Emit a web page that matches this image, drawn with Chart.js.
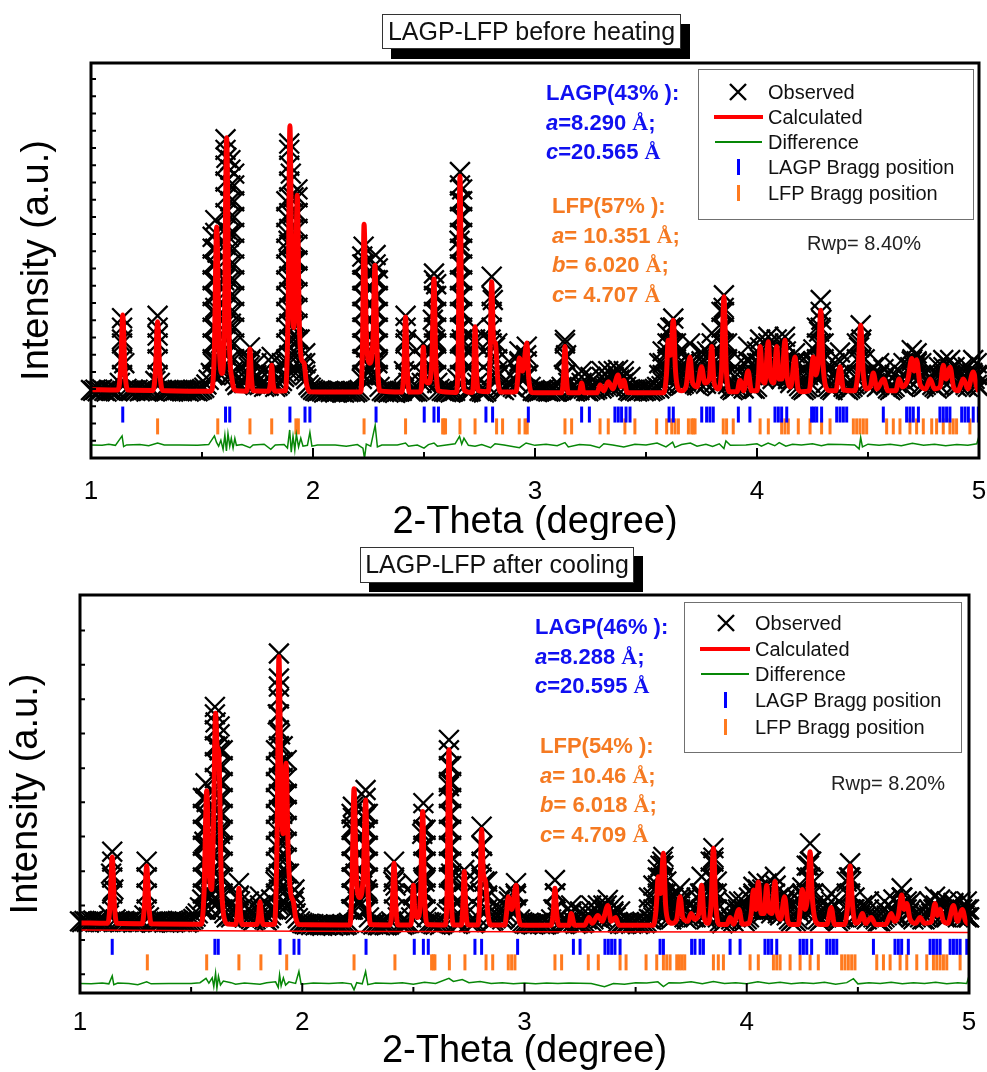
<!DOCTYPE html>
<html><head><meta charset="utf-8">
<script src="https://cdn.jsdelivr.net/npm/chart.js@4.4.1/dist/chart.umd.min.js"></script>
<style>
html,body{margin:0;padding:0;background:#fff}
body{position:relative;width:987px;height:1072px;overflow:hidden;font-family:"Liberation Sans",Arial,sans-serif}
canvas{position:absolute;left:0}
#c1{top:0}#c2{top:540px}
.tbox{position:absolute;box-sizing:border-box;background:#fff;border:1.5px solid #333;font-size:25px;line-height:32px;text-align:center;color:#111;white-space:nowrap}
.ann{position:absolute;font-weight:bold;font-size:22px;line-height:29.5px;white-space:nowrap}
.ann i{font-style:italic}
.ang{font-family:"Liberation Serif","Times New Roman",serif;font-weight:bold}
.blue{color:#1010f0}.orange{color:#f57a22}
.lg{position:absolute;box-sizing:border-box;border:1.5px solid #707070;background:#fff}
.lt{position:absolute;font-size:20px;line-height:22px;color:#111;white-space:nowrap}
.sym{position:absolute}
</style></head><body>
<canvas id="c1" width="987" height="540"></canvas>
<canvas id="c2" width="987" height="532"></canvas>

<div class="tbox" style="left:382px;top:14px;width:299px;height:35px;box-shadow:9px 10px 0 #000">LAGP-LFP before heating</div>
<div class="tbox" style="left:360px;top:547px;width:274px;height:36px;box-shadow:9px 9px 0 #000">LAGP-LFP after cooling</div>

<div class="ann blue" style="left:546px;top:78px">LAGP(43% ):<br><i>a</i>=8.290 <span class="ang">Å</span>;<br><i>c</i>=20.565 <span class="ang">Å</span></div>
<div class="ann orange" style="left:552px;top:191px">LFP(57% ):<br><i>a</i>= 10.351 <span class="ang">Å</span>;<br><i>b</i>= 6.020 <span class="ang">Å</span>;<br><i>c</i>= 4.707 <span class="ang">Å</span></div>
<div class="ann blue" style="left:535px;top:612px">LAGP(46% ):<br><i>a</i>=8.288 <span class="ang">Å</span>;<br><i>c</i>=20.595 <span class="ang">Å</span></div>
<div class="ann orange" style="left:540px;top:731px">LFP(54% ):<br><i>a</i>= 10.46 <span class="ang">Å</span>;<br><i>b</i>= 6.018 <span class="ang">Å</span>;<br><i>c</i>= 4.709 <span class="ang">Å</span></div>

<div class="lt" style="left:807px;top:232px;color:#222">Rwp= 8.40%</div>
<div class="lt" style="left:831px;top:772px;color:#222">Rwp= 8.20%</div>

<div class="lg" style="left:698px;top:69px;width:276px;height:151px"></div>
<svg class="sym" style="left:728px;top:82px" width="20" height="20"><path d="M2,2L18,18M18,2L2,18" stroke="#000" stroke-width="2.4"/></svg>
<div class="lt" style="left:768px;top:81px">Observed</div>
<div class="sym" style="left:714px;top:115px;width:49px;height:4px;background:#f00"></div>
<div class="lt" style="left:768px;top:106px">Calculated</div>
<div class="sym" style="left:715px;top:141px;width:47px;height:1.5px;background:#078707"></div>
<div class="lt" style="left:768px;top:131px">Difference</div>
<div class="sym" style="left:737px;top:159px;width:3px;height:16px;background:#0000ff"></div>
<div class="lt" style="left:768px;top:156px">LAGP Bragg position</div>
<div class="sym" style="left:737px;top:185px;width:3px;height:16px;background:#ff7a1f"></div>
<div class="lt" style="left:768px;top:182px">LFP Bragg position</div>

<div class="lg" style="left:684px;top:602px;width:278px;height:151px"></div>
<svg class="sym" style="left:716px;top:613px" width="20" height="20"><path d="M2,2L18,18M18,2L2,18" stroke="#000" stroke-width="2.4"/></svg>
<div class="lt" style="left:755px;top:612px">Observed</div>
<div class="sym" style="left:700px;top:647px;width:50px;height:4px;background:#f00"></div>
<div class="lt" style="left:755px;top:638px">Calculated</div>
<div class="sym" style="left:701px;top:673px;width:48px;height:1.5px;background:#078707"></div>
<div class="lt" style="left:755px;top:663px">Difference</div>
<div class="sym" style="left:724px;top:692px;width:3px;height:16px;background:#0000ff"></div>
<div class="lt" style="left:755px;top:689px">LAGP Bragg position</div>
<div class="sym" style="left:724px;top:719px;width:3px;height:16px;background:#ff7a1f"></div>
<div class="lt" style="left:755px;top:716px">LFP Bragg position</div>

<script>
// ---------- data ----------
const xMajorTicks = [1, 2, 3, 4, 5];
const xMinorTicks = [1.5, 2.5, 3.5, 4.5];
const yTicks1 = [4.36,8.72,13.08,17.44,21.8,26.16,30.52,34.88,39.24,43.6,47.96,52.32,56.68,61.04,65.4,69.76,74.12,78.48,82.84,87.2,91.56,95.92];
const yTicks2 = [4.7,13.3,22.0,30.6,39.3,47.9,56.5,65.2,73.8,82.5,91.1];

// observed intensities on the measurement grid (2θ from 1.00 to 5.00, 0.01 step)
const obsGridStart = 1.0, obsGridStep = 0.01;
const obsGrid1 = [
17.2,17,17.3,16.9,17.1,17.4,17,16.8,17.2,17.1,17,17.3,16.9,19,30,24,17.5,17.1,17,17.2,
17,17.3,16.9,17.1,17.2,16.8,17,17.3,17.1,19.5,31,19,17.2,17,16.9,17.2,17.1,16.8,17,17.2,
17.1,16.9,17.2,17,16.8,17.1,17.3,17,16.9,17.2,17.4,17.8,18.6,19.8,21.5,24,38,52,28,22,
45,76,56,34,22,19.5,18.5,18.8,19.5,19,20,23,25,19.5,18.8,19.2,18.5,18.8,18,18.3,
18.3,21,19,18,18.3,18.8,19.5,20.5,24,55,72,42,50,62,30,24,22,20,18.5,17.8,
17.3,17,16.8,17.1,16.9,16.6,16.8,17,16.7,16.9,16.6,16.8,17,16.7,16.6,16.9,16.7,16.8,17,16.6,
16.8,17.2,20,45,28,22,21,28,45,24,18,17,16.7,16.9,16.6,16.8,16.7,16.5,16.8,16.9,
17,22,30,19,16.9,16.7,16.9,16.8,17.2,19,25,19,19,21,35,30,19,17.5,17,16.8,
16.7,16.9,16.6,16.8,17,20,55,30,18,17,16.7,16.9,18,30,19,17,16.8,16.6,16.9,18,
30,40,28,22,18,17.5,17.2,18,19,18.5,18,17.6,19,24,21,20,26,21,18,17,
16.9,16.7,16.9,17.1,17.3,17,16.8,16.9,17.2,16.8,16.9,17.3,18,21,26,19,17.4,17,16.8,17.1,
17.2,19,17.5,17,16.9,17.3,17.6,17.2,17.5,18.3,17.6,18,18.4,19,18.2,17.8,18.2,19.2,19.8,18.6,
19,18,17.2,16.9,17.3,17.1,16.8,17,17.3,16.9,17.1,17.4,16.9,17.2,17.5,18,17.6,18.2,19,20.5,
27,25,33,23,19.5,18.8,18.4,18.8,19.3,22,24,19.5,18.8,18.4,19,22,19.5,18.8,19.5,26,
24,19.3,18.2,18.8,21,38,24,18.7,17.6,17.2,17.5,18,19.5,18.2,17.6,19,21,19,17.6,17.5,
18,24,23,20,21,28,22,20,21,26,21,20,24,27,20,19,20,24,19,18.2,
17.5,17.2,17.6,18,19,24,22,23,32,35,22,19,18,17.5,17.2,18,20,23,20,18,
17.5,17.2,17.6,18,18.6,20,28,30,21,19,18.5,19,21,19,18,18.5,19.5,20,18.5,17.6,
17.2,17.6,18,19,20,18.5,18,19,20,23,25,23,24,20,18.5,18,18.5,19,20,18.5,
18,17.6,18.5,20,23,21,20,22.5,20,18.5,18,18.5,19,20,18.5,18,19.5,21.5,20,18.5,
18];
// stacked observed points along the peak flanks: [2θ, [intensities]]
const obsStacks1 = [
[1.140,[21,25,29,33,35.4]],[1.300,[21,25,29,33,36]],
[1.548,[21,25,29,33,37,41,45,49,53,56]],
[1.560,[21,25,29,33,37,41,45,49,53,57,60.2]],[1.585,[21,24.5]],
[1.606,[22,26,30,34,38,42,46,50,54,58,62,66,70,74,78,80.7]],
[1.628,[21,25,29,33,37,41,45,49,53,57,61,65,69,73,75.4]],
[1.645,[21,25,29,33,37,41,45,49,53,57,61,65,69,72]],
[1.700,[21,24.5]],[1.716,[21,24.5,28]],[1.745,[21,24]],[1.814,[21,24,25.6]],[1.860,[21,24]],
[1.880,[21,25,29,33,37,41,45,49,53,57,61,65]],
[1.893,[22,26,30,34,38,42,46,50,54,58,62,66,70,74,78,79.6]],
[1.912,[22,26,30,34,38,42,46,50,54,58,62,66]],
[1.930,[22,26,30,34,38,42,46,50,54,58,62,66,68]],[1.965,[21,24,26.5]],
[2.222,[21,25,29,33,37,41,45,49,51]],
[2.228,[21,25,29,33,37,41,45,49,53.5]],[2.282,[21,25,29,33,37,41,45,49,51.4]],
[2.292,[21,25,29,33,37,41,45,48]],
[2.417,[21,25,29,33,36]],[2.497,[21,25,29]],[2.545,[21,25,29,33,37,41,45,46.7]],
[2.555,[21,25,29,33,37,41,44]],
[2.662,[21,25,29,33,37,41,45,49,53,57,61,65,69,72.4]],
[2.672,[21,25,29,33,37,41,45,49,53,57,61,65,68]],[2.730,[21,25,29,33]],
[2.805,[21,25,29,33,37,41,45.9]],[2.830,[21,25,29]],[2.890,[21,24]],
[2.930,[21,24.5,27]],[2.963,[21,24.5,28.2]],[3.135,[21,25,29,29.9]],
[3.210,[20.5,22]],[3.250,[20.5]],[3.300,[20.5,22]],[3.330,[20.5,22]],[3.355,[20.5,22]],[3.374,[20.5,22.3]],[3.400,[20.5,22]],[3.430,[20.5]],
[3.560,[21,24]],[3.575,[21,24,27]],[3.597,[21,25,29,31.5]],[3.610,[21,25,29,33]],[3.623,[21,25,29,33,35.3]],[3.635,[21,25,29]],[3.650,[21,24,27]],[3.670,[21,24]],
[3.698,[21,25,29]],[3.720,[21,24]],[3.750,[21,24.5,26.7]],[3.775,[21,24,27]],[3.796,[21,25,29,31.6]],[3.820,[21,24]],
[3.840,[21,25,29,33,37]],[3.851,[21,25,29,33,37,41.2]],[3.865,[21,25,29]],
[3.900,[20.5,23]],[3.940,[21,24]],[3.960,[21,24.5,28.2]],[3.980,[21,24]],
[4.000,[21,24,27]],[4.014,[21,25,28,30]],[4.035,[21,24,27]],[4.051,[21,25,29,30.7]],[4.070,[21,24,27]],[4.089,[21,25,28,30]],
[4.110,[21,24,27]],[4.126,[21,25,29,30.7]],[4.145,[21,24]],
[4.171,[21,24.5,26.5]],[4.190,[21,24]],[4.230,[21,24]],[4.254,[21,24.5,27.5]],[4.270,[21,25,29,33]],[4.287,[21,25,29,33,37,40]],[4.300,[21,25,29]],
[4.350,[21,24]],[4.374,[21,24.5,26.7]],[4.450,[21,25,29]],[4.467,[21,25,29,33.6]],[4.485,[21,25]],[4.524,[20.5,23]],[4.550,[21,24]],[4.570,[20.5,22.5]],
[4.620,[21,23]],[4.660,[21,24]],[4.697,[21,24.5,27.3]],[4.719,[21,24.5,26.5]],[4.740,[21,24]],[4.780,[20.5,22.5]],
[4.820,[21,23]],[4.839,[21,24.8]],[4.855,[21,24]],[4.870,[21,24.8]],[4.890,[21,23]],[4.930,[20.5,23]],[4.950,[21,23]],[4.974,[21,24.8]],[4.990,[21,24]],[5.000,[18,21]]
];
const calc1 = [
[1.00,17.3],[1.12,17.2],[1.133,22],[1.143,36.2],[1.153,22],[1.166,17.2],
[1.28,17.1],[1.29,22],[1.300,34.5],[1.310,22],[1.322,17.1],
[1.54,16.9],[1.555,26],[1.566,58.5],[1.578,28],[1.590,21.4],[1.600,30],[1.611,81.1],[1.622,32],[1.635,20],[1.655,17],
[1.70,16.9],[1.709,20],[1.716,27.6],[1.723,20],[1.732,17],
[1.80,16.9],[1.808,19],[1.814,23.5],[1.820,19],[1.828,16.9],
[1.875,17],[1.888,38],[1.896,84.1],[1.905,45],[1.913,33],[1.921,42],[1.929,66.5],[1.938,35],[1.948,25],[1.960,24],[1.970,19],[1.985,16.8],
[2.215,16.7],[2.223,28],[2.230,59.2],[2.240,32],[2.255,24],[2.270,30],[2.279,48.8],[2.288,28],[2.300,17],
[2.400,16.7],[2.409,22],[2.417,35.7],[2.425,22],[2.434,16.7],
[2.485,16.8],[2.491,20],[2.497,28.1],[2.504,20],[2.520,19],[2.535,24],[2.545,45.3],[2.553,25],[2.565,17],
[2.645,16.6],[2.654,26],[2.662,71.3],[2.671,28],[2.684,17],
[2.718,16.6],[2.724,21],[2.730,33.2],[2.737,21],[2.746,17],
[2.790,16.8],[2.797,24],[2.805,44.6],[2.813,30],[2.822,29],[2.832,20],[2.845,16.7],
[2.915,16.8],[2.922,20],[2.929,25.3],[2.945,22],[2.963,29.1],[2.972,20],[2.985,16.6],
[3.12,16.5],[3.128,20],[3.135,28.2],[3.142,20],[3.150,16.5],
[3.20,16.5],[3.21,19],[3.22,16.5],
[3.28,16.5],[3.293,18.5],[3.31,17],[3.33,19.3],[3.35,17.5],[3.374,21],[3.387,18],[3.40,19.7],[3.415,16.6],
[3.58,16.5],[3.592,21],[3.600,29.8],[3.610,26],[3.623,34.9],[3.633,22],[3.645,17.5],[3.66,17],[3.68,18],[3.698,25.6],[3.71,19],[3.73,18],[3.75,23.1],[3.765,19],[3.785,20],[3.796,28.2],[3.807,19],[3.825,17.5],[3.84,22],[3.851,40.8],[3.862,22],[3.878,16.8],
[3.91,16.8],[3.923,19.7],[3.94,17],[3.96,22],[3.975,17],
[4.00,17],[4.007,21],[4.014,28.2],[4.025,20],[4.035,19],[4.051,29.4],[4.062,20],[4.075,19],[4.089,28.2],[4.10,20],[4.112,20],[4.126,29.8],[4.137,20],[4.152,18],[4.171,25.6],[4.185,17.5],[4.20,16.8],
[4.235,17],[4.254,25.6],[4.265,21],[4.278,26],[4.287,37.4],[4.297,24],[4.31,18],[4.33,17],
[4.355,17],[4.374,23.1],[4.39,17.2],
[4.44,17],[4.455,22],[4.467,33.6],[4.478,22],[4.492,17.5],[4.51,18],[4.524,21.5],[4.54,17.5],[4.57,20],[4.59,17],
[4.625,17],[4.64,20],[4.655,18],[4.68,20],[4.697,25.2],[4.708,22],[4.719,24.9],[4.735,18.5],[4.76,17.5],[4.78,20],[4.80,17.5],
[4.825,18],[4.839,23.5],[4.852,20],[4.87,23],[4.885,18],[4.905,17],[4.93,20],[4.95,17.5],[4.974,21.8],[4.99,18],[5.00,16.8]
];
const diff1 = [
[1.00,3.3],[1.05,3.2],[1.08,3.5],[1.11,3.2],[1.14,5.6],[1.147,2.9],[1.16,3.3],[1.22,3.4],[1.26,3.1],[1.30,3.8],[1.33,3.3],[1.40,3.3],[1.48,3.2],[1.53,3.4],
[1.556,5.6],[1.565,4],[1.575,3],[1.585,4.5],[1.595,2.2],[1.603,5.8],[1.61,1.8],[1.617,6.2],[1.625,3],[1.632,5],[1.64,2.5],[1.648,5],[1.655,3.2],[1.68,3.4],
[1.716,2.6],[1.73,3.3],[1.78,3.5],[1.81,2.2],[1.83,3.3],[1.87,3.4],[1.885,2.5],[1.895,7.1],[1.902,1.5],[1.91,5.5],[1.918,2],[1.925,6],[1.935,2.8],[1.945,5],[1.955,3],[1.975,3.2],[1.986,6.5],[1.995,3],
[2.02,3.3],[2.10,3.3],[2.15,3.0],[2.20,3.4],[2.225,2.5],[2.232,-0.1],[2.24,3.5],[2.26,3],[2.28,8.3],[2.29,2.8],[2.31,3.3],[2.38,3.3],[2.417,3.8],[2.43,3],[2.47,3.3],[2.50,2.5],[2.52,3.4],[2.545,3.8],[2.56,3],
[2.60,3.3],[2.64,3.6],[2.66,5.5],[2.67,3.5],[2.68,5],[2.70,3.2],[2.73,3],[2.76,3.4],[2.80,2.6],[2.82,3.6],[2.86,3.3],[2.93,2.6],[2.96,3.8],[3.0,3.2],
[3.05,3.5],[3.10,3.1],[3.135,3.9],[3.15,2.8],[3.2,3.4],[3.25,3.2],[3.29,2.6],[3.31,3.6],[3.35,3.3],[3.40,2.8],[3.45,3.5],[3.50,3.3],[3.55,3.8],[3.59,2.8],[3.62,4],[3.63,2.7],[3.66,3.4],[3.70,3.8],[3.73,3.0],[3.77,3.5],[3.80,2.9],[3.83,3.6],[3.851,2.4],[3.86,4.3],[3.88,3.2],[3.95,3.3],
[4.00,3.6],[4.02,3.0],[4.05,3.8],[4.08,3.1],[4.10,3.9],[4.13,3.0],[4.16,3.5],[4.20,3.3],[4.25,3.6],[4.29,3.1],[4.32,3.5],[4.38,3.4],[4.44,3.3],[4.46,2.3],[4.467,5.2],[4.475,2.8],[4.50,3.5],[4.55,3.2],[4.60,3.5],[4.65,3.1],[4.70,3.7],[4.75,3.2],[4.80,3.5],[4.85,3.1],[4.90,3.4],[4.95,3.2],[4.99,3.6],[5.0,5.5]
];
const lagpBragg1 = [1.143,1.606,1.625,1.896,1.964,1.986,2.284,2.501,2.545,2.565,2.779,2.809,2.970,3.210,3.245,3.360,3.375,3.390,3.410,3.428,3.604,3.623,3.751,3.773,3.788,3.803,3.916,3.968,4.081,4.096,4.111,4.134,4.246,4.257,4.269,4.291,4.359,4.374,4.389,4.404,4.569,4.674,4.689,4.704,4.727,4.824,4.839,4.854,4.869,4.922,4.937,4.952,4.974,4.997];
const lfpBragg1 = [1.300,1.571,1.716,1.814,1.923,1.934,2.230,2.417,2.584,2.590,2.597,2.662,2.730,2.827,2.854,2.929,2.955,2.965,3.135,3.165,3.293,3.330,3.405,3.450,3.548,3.593,3.616,3.631,3.646,3.691,3.706,3.713,3.721,3.848,3.863,3.893,4.014,4.051,4.111,4.126,4.141,4.186,4.239,4.291,4.329,4.434,4.449,4.464,4.479,4.494,4.584,4.614,4.644,4.689,4.719,4.749,4.787,4.809,4.839,4.869,4.884,4.899,4.959];

const obsGrid2 = [
18,17.8,18.1,17.9,17.7,18,18.2,17.8,17.9,18.1,17.8,18,17.9,19.5,30,26,18.5,18,17.8,17.9,
18.1,17.8,17.9,18,17.7,17.9,18.1,17.8,18,19.5,29,19,17.9,17.7,18,17.8,17.9,18.1,17.7,17.9,
17.8,18,17.7,17.9,18.1,17.8,17.9,18,17.7,17.9,18.2,18.6,19.2,20,21.5,23.5,38,48,30,25,
45,68,62,40,24,20,19,19.4,19,19.5,20,24,23,19.5,19,19.4,19,18.6,18.2,18.5,
19,22,19,18.5,18.2,18.8,19.5,21,28,70,65,45,50,50,30,25,23,20,18.8,18,
17.6,17.4,17.2,17.4,17.1,17.3,17,17.2,17.1,16.9,17.2,17,17.3,17.1,16.9,17.2,17,17.1,17.3,17,
17.2,17.6,21,42,30,23,22,27,44,26,19,17.6,17.2,17.4,17.1,17,17.3,17.1,17,17.2,
18,28,27,19,17.4,17.1,17.3,17.5,17.6,19,25,20,19.5,22,40,28,19,17.8,17.6,17.3,
17.2,17.5,17.1,17.4,17.8,20,52,30,19,17.6,17.3,17.6,19,28,20,17.8,18,17.5,17.8,19,
30,37,28,24,19,18,18.3,18.8,19.3,19,18.5,19,20,23,21,20.5,25,21,18.5,17.8,
17.5,17.3,17.6,17.4,17.2,17.4,17.6,17.3,17.5,17.2,17.6,17.5,18.5,21,25,19,17.8,17.4,17.3,17.6,
17.8,20,17.9,17.4,17.6,17.8,17.5,17.8,18.5,19.5,18,18.5,19.3,19,18.6,19,21,22,19.5,19,
20,19,17.8,17.4,17.6,17.3,17.5,17.8,17.4,17.6,17.8,17.3,17.6,17.9,17.5,17.8,18.6,18.4,19,20.5,
27,25,33,24,20,19,18.5,19,19.5,21,23,20,19,18.5,19,20,19,19,20,25,
24,19.5,18.5,19,22,34,23,19,18,17.5,18,18.5,19.5,18.5,18,19,21,20,18.5,18,
18.5,19,21,25,21,26,22,20,21,26,21,20,23,27,20,19.5,20,23,19.5,18.5,
18,18.5,18,18.5,20,25,22,23,32,33,22,19.5,18.5,18,18.5,19,19.5,21,21,19,
18.5,18,18.5,19,19,21,29,28,21,19.5,19,19.5,20.5,19,18.5,19,19.5,19,18.5,18,
18,18.5,19,19.5,20,19.5,19,19.5,19.5,22,24,21,22,20,19,18.5,19,19.5,19,18.5,
18.5,19,19.5,20,21,22,20,21,19.5,19,19,20,21.5,22,19.5,19,20,21,19.5,19,
19];
const obsStacks2 = [
[1.145,[21,25,29,33,35.5]],[1.300,[21,25,29,33]],
[1.553,[21,25,29,33,37,41,45,49]],
[1.565,[21,25,29,33,37,41,45,49,52.7]],[1.590,[21,24.5,27]],
[1.607,[22,26,30,34,38,42,46,50,54,58,62,66,70,71.9]],
[1.628,[21,25,29,33,37,41,45,49,53,57,61,65,67]],
[1.642,[21,25,29,33,37,41,45,49,53,57,61]],
[1.715,[21,24.5,27.6]],[1.760,[21,23]],[1.810,[21,24.2]],[1.860,[21,23.5]],
[1.882,[21,25,29,33,37,41,45,49,53,57,61]],
[1.895,[22,26,30,34,38,42,46,50,54,58,62,66,70,74,77,79,85.3]],
[1.912,[22,26,30,34,38,42,46,50,54,58,62]],
[1.930,[22,26,30,34,38,42,46,50,54,58.5]],[1.965,[21,24,26]],
[2.222,[21,25,29,33,37,41,45]],
[2.228,[21,25,29,33,37,41,44,46.8]],[2.285,[21,25,29,33,37,41,45,49,51]],
[2.295,[21,25,29,33,37,41,45]],
[2.413,[21,25,29,33]],[2.500,[21,24.5,27.5]],[2.545,[21,25,29,33,37,41,45,47.7]],
[2.555,[21,25,29,33,37,41]],
[2.660,[21,25,29,33,37,41,45,49,53,57,61,63.6]],[2.670,[21,25,29,33,37,41,45,49,53,57]],
[2.729,[21,25,28,30.9]],
[2.807,[21,25,29,33,37,41.8]],[2.832,[21,24.5,28]],[2.890,[21,23]],
[2.930,[21,24.2]],[2.962,[21,24.5,27.6]],[3.137,[21,25,28.4]],
[3.210,[20.5,22]],[3.250,[20.5]],[3.300,[20.5,22]],[3.330,[20.5,22]],[3.355,[20.5,22]],[3.375,[20.5,23.4]],[3.400,[20.5,22]],[3.430,[20.5]],
[3.560,[21,24]],[3.580,[21,24,27]],[3.600,[21,25,29,31]],[3.612,[21,25,29,32]],[3.625,[21,25,29,32,34.2]],[3.638,[21,25,28]],[3.650,[21,24]],[3.670,[21,24]],
[3.700,[21,24,26.3]],[3.720,[21,23.5]],[3.775,[21,24]],[3.797,[21,25,29.2]],[3.820,[21,23.5]],
[3.838,[21,25,29,33]],[3.850,[21,25,29,33,36.4]],[3.865,[21,25,28]],
[3.940,[21,23]],[3.965,[20.5,23]],[3.985,[21,23]],
[4.010,[21,24]],[4.030,[21,24.5,26.7]],[4.052,[21,25,28]],[4.070,[21,24,26]],[4.090,[21,24.5,27.5]],[4.110,[21,24,26]],[4.127,[21,25,29.2]],[4.145,[21,24]],
[4.170,[21,23.5,25]],[4.190,[21,23]],[4.230,[21,23.5]],[4.250,[21,24.5,26.5]],[4.270,[21,25,29,32]],[4.285,[21,25,29,33,37.6]],[4.300,[21,25,28]],
[4.350,[21,23]],[4.380,[21,23,25]],[4.450,[21,25,28]],[4.465,[21,25,29,32.6]],[4.485,[21,24]],[4.520,[20.5,22]],[4.550,[21,23]],
[4.620,[21,23]],[4.660,[21,23.5]],[4.697,[21,24,26.3]],[4.720,[21,23]],[4.740,[21,23]],
[4.820,[21,23]],[4.847,[21,24.2]],[4.870,[21,23.5]],[4.900,[21,23]],[4.930,[20.5,22.6]],[4.960,[21,23]],[4.990,[21,23]],[5.000,[19,21]]
];
const calc2 = [
[1.00,17.6],[1.125,17.5],[1.135,22],[1.145,34.2],[1.155,22],[1.165,17.5],
[1.28,17.4],[1.29,22],[1.300,31.9],[1.310,22],[1.32,17.4],
[1.545,17.3],[1.558,25],[1.570,50.8],[1.582,30],[1.592,26],[1.600,40],[1.610,70.3],[1.617,62],[1.625,60],[1.635,30],[1.648,19],[1.665,17.3],
[1.700,17.2],[1.708,20],[1.715,26.3],[1.722,20],[1.730,17.2],
[1.795,17.2],[1.803,19],[1.810,22.9],[1.817,19],[1.825,17.2],
[1.875,17.3],[1.887,40],[1.895,84.5],[1.905,50],[1.914,40],[1.920,48],[1.927,57.7],[1.937,35],[1.948,25],[1.960,23],[1.970,19],[1.985,17.2],
[2.215,17.1],[2.224,28],[2.233,51.3],[2.243,30],[2.258,24],[2.275,30],[2.285,48.5],[2.295,27],[2.307,17.2],
[2.395,17.1],[2.405,22],[2.413,32.6],[2.421,22],[2.430,17.1],
[2.488,17.1],[2.494,20],[2.500,27.1],[2.507,20],[2.520,19],[2.532,24],[2.542,45.6],[2.550,25],[2.562,17.2],
[2.643,17.1],[2.652,26],[2.660,61.1],[2.669,27],[2.682,17.1],
[2.716,17.1],[2.722,21],[2.729,30.5],[2.736,21],[2.745,17.1],
[2.790,17.1],[2.799,24],[2.807,41.1],[2.815,30],[2.825,28],[2.835,20],[2.848,17.1],
[2.912,17.1],[2.919,20],[2.927,24.2],[2.943,21],[2.962,27.1],[2.971,20],[2.985,17.1],
[3.12,17],[3.129,20],[3.137,26.3],[3.145,20],[3.155,17],
[3.20,17],[3.21,20],[3.225,17],
[3.27,17],[3.29,19],[3.305,17.5],[3.33,19.5],[3.35,18],[3.375,22],[3.39,18],[3.41,19],[3.425,17],
[3.58,17],[3.592,21],[3.602,29.2],[3.612,25],[3.625,35.1],[3.635,22],[3.648,18],[3.665,17.5],[3.685,18.5],[3.70,24.2],[3.712,19],[3.735,18],[3.75,20],[3.765,18.5],[3.785,20],[3.797,27.1],[3.808,19],[3.825,17.5],[3.839,22],[3.850,36.4],[3.861,22],[3.877,17.2],
[3.91,17.2],[3.925,19],[3.94,17.3],[3.965,21],[3.98,17.3],
[4.01,17.5],[4.02,20],[4.03,25.9],[4.041,21],[4.052,27.9],[4.065,20],[4.078,20],[4.09,27],[4.10,20.5],[4.113,20],[4.127,28],[4.138,20],[4.152,18.5],[4.17,24.2],[4.185,18],[4.20,17.2],
[4.232,17.2],[4.25,26],[4.262,21],[4.275,25],[4.285,35.5],[4.295,24],[4.31,18],[4.33,17.2],
[4.36,17.2],[4.38,21.5],[4.395,17.2],
[4.44,17.2],[4.454,22],[4.465,31.9],[4.476,22],[4.49,17.5],[4.505,18],[4.52,20],[4.535,17.5],[4.56,19],[4.58,17.2],
[4.625,17.2],[4.65,20],[4.665,18],[4.682,19.5],[4.697,24.6],[4.708,21],[4.72,22.5],[4.735,18.5],[4.76,17.5],[4.78,19],[4.80,17.5],
[4.83,17.8],[4.847,22.5],[4.858,19.5],[4.87,21],[4.885,18],[4.905,17.5],[4.93,22],[4.948,18],[4.97,21],[4.985,18],[5.00,17.2]
];
const bg2 = [[1.0,15.8],[2.0,15.5],[3.0,15.4],[4.0,15.3],[5.0,15.2]];
const diff2 = [
[1.00,2.4],[1.05,2.3],[1.10,2.5],[1.13,2.3],[1.145,4.3],[1.152,2.1],[1.17,2.5],[1.22,2.4],[1.26,2.1],[1.30,2.8],[1.32,2.3],[1.40,2.4],[1.50,2.4],[1.54,2.6],
[1.567,3.7],[1.58,2.5],[1.595,3.8],[1.602,1.6],[1.610,5.0],[1.616,1.2],[1.623,4.2],[1.632,2],[1.645,3],[1.68,2.6],[1.70,2.2],[1.74,2.5],[1.81,2.2],[1.84,2.6],
[1.88,2.8],[1.892,1.4],[1.898,4.6],[1.905,1.8],[1.915,3.8],[1.925,2.0],[1.94,2.8],[1.97,2.4],[1.985,5.4],[1.995,2.2],[2.05,2.5],[2.12,2.4],[2.18,2.6],[2.22,2.3],
[2.233,0.8],[2.245,2.6],[2.27,2.3],[2.285,5.4],[2.295,2.1],[2.33,2.5],[2.40,2.4],[2.45,2.6],[2.50,2.2],[2.55,2.7],[2.60,2.4],[2.66,3.7],[2.68,2.9],[2.72,3.4],
[2.75,2.6],[2.80,2.9],[2.85,2.4],[2.90,2.6],[2.95,2.3],[3.00,2.5],[3.05,2.3],[3.10,2.5],[3.15,2.4],[3.20,2.5],[3.30,2.4],[3.36,1.6],[3.40,2.4],[3.45,2.2],
[3.50,2.6],[3.55,2.5],[3.60,2.8],[3.625,1.6],[3.65,2.6],[3.70,2.5],[3.75,2.8],[3.80,2.3],[3.85,2.9],[3.90,2.4],[3.95,2.6],[4.00,2.3],[4.05,2.8],[4.10,2.4],
[4.15,2.7],[4.20,2.3],[4.25,2.6],[4.30,2.4],[4.35,2.7],[4.40,2.2],[4.45,2.6],[4.48,3.6],[4.50,2.3],[4.55,2.6],[4.60,2.4],[4.65,2.7],[4.70,2.3],[4.75,2.6],
[4.80,2.4],[4.85,2.7],[4.90,2.3],[4.95,2.6],[4.99,2.4],[5.0,4.3]
];
const lagpBragg2 = [1.145,1.607,1.622,1.900,1.963,1.985,2.287,2.504,2.545,2.567,2.777,2.807,2.969,3.220,3.250,3.362,3.377,3.392,3.407,3.430,3.610,3.625,3.752,3.767,3.790,3.805,3.925,3.970,4.082,4.097,4.112,4.135,4.240,4.255,4.270,4.292,4.360,4.375,4.390,4.405,4.570,4.667,4.682,4.697,4.727,4.825,4.840,4.855,4.870,4.915,4.930,4.945,4.960,4.990];
const lfpBragg2 = [1.303,1.570,1.715,1.814,1.930,2.233,2.417,2.582,2.590,2.597,2.662,2.732,2.827,2.857,2.927,2.942,2.957,3.137,3.167,3.287,3.332,3.430,3.457,3.547,3.595,3.625,3.640,3.655,3.685,3.697,3.709,3.721,3.850,3.872,3.895,4.015,4.052,4.120,4.135,4.150,4.195,4.240,4.285,4.322,4.427,4.442,4.457,4.472,4.487,4.585,4.615,4.645,4.690,4.720,4.765,4.810,4.840,4.855,4.870,4.885,4.900,4.960];

// ---------- drawing ----------
Chart.defaults.font.family = "'Liberation Sans', Arial, sans-serif";
const BLUE = '#0000ff', ORANGE = '#ff7a1f', GREEN = '#078707', RED = '#ff0000';

const framePlugin = {
  id: 'frame',
  afterDatasetsDraw(chart, args, o) {
    const {ctx, chartArea: a, scales: {x, y}} = chart;
    ctx.save();
    ctx.strokeStyle = '#000';
    ctx.lineWidth = 2;
    ctx.beginPath();
    xMajorTicks.forEach(v => { const p = x.getPixelForValue(v); ctx.moveTo(p, a.bottom); ctx.lineTo(p, a.bottom - 10); });
    xMinorTicks.forEach(v => { const p = x.getPixelForValue(v); ctx.moveTo(p, a.bottom); ctx.lineTo(p, a.bottom - 6); });
    o.yTicks.forEach(v => { const p = y.getPixelForValue(v); ctx.moveTo(a.left, p); ctx.lineTo(a.left + 5, p); });
    ctx.stroke();
    ctx.lineWidth = 3;
    ctx.strokeRect(a.left, a.top, a.right - a.left, a.bottom - a.top);
    ctx.restore();
  }
};

function makePanel(id, p) {
  const obsPts = p.obsGrid.map((v, i) => ({x: Math.round((obsGridStart + i * obsGridStep) * 1000) / 1000, y: v}));
  p.obsStacks.forEach(([x, ys]) => ys.forEach(y => obsPts.push({x, y})));
  const pairs = arr => arr.map(([x, y]) => ({x, y}));
  const marks = (xs, y) => xs.map(x => ({x, y}));
  const datasets = [
    {label: 'Calculated', data: pairs(p.calc), showLine: true, borderColor: RED, borderWidth: 5, pointRadius: 0, cubicInterpolationMode: 'monotone', order: 0},
    {label: 'Observed', data: obsPts, showLine: false, pointStyle: 'crossRot', pointRadius: 14, pointBorderWidth: 2.3, borderColor: '#000', pointBorderColor: '#000', backgroundColor: '#000', order: 2, clip: 12},
    {label: 'Difference', data: pairs(p.diff), showLine: true, borderColor: GREEN, borderWidth: 1.5, pointRadius: 0, order: 3},
    {label: 'LAGP Bragg position', data: marks(p.lagp, p.lagpY), showLine: false, pointStyle: 'line', pointRotation: 90, pointRadius: 8, pointBorderWidth: 3, borderColor: BLUE, pointBorderColor: BLUE, order: 3},
    {label: 'LFP Bragg position', data: marks(p.lfp, p.lfpY), showLine: false, pointStyle: 'line', pointRotation: 90, pointRadius: 8, pointBorderWidth: 3, borderColor: ORANGE, pointBorderColor: ORANGE, order: 3}
  ];
  if (p.bg) datasets.push({label: 'Background', data: pairs(p.bg), showLine: true, borderColor: RED, borderWidth: 1.5, pointRadius: 0, order: 1});
  return new Chart(document.getElementById(id), {
    type: 'scatter',
    data: {datasets},
    options: {
      responsive: false, animation: false, devicePixelRatio: 1, events: [],
      layout: {autoPadding: false, padding: p.pad},
      plugins: {legend: {display: false}, tooltip: {enabled: false}, frame: {yTicks: p.yTicks}},
      scales: {
        x: {type: 'linear', min: 1, max: 5,
            ticks: {stepSize: 1, color: '#000', font: {size: 26}, padding: p.xTickPad, maxRotation: 0, autoSkip: false},
            grid: {display: false, drawTicks: false}, border: {display: false},
            title: {display: true, text: '2-Theta (degree)', color: '#000', font: {size: 38, lineHeight: 1}, padding: {top: 0, bottom: p.xTitlePad}},
            afterFit: s => { s.height = p.xAxisH; s.paddingLeft = 0; s.paddingRight = 0; }},
        y: {type: 'linear', min: 0, max: 100,
            ticks: {display: false}, grid: {display: false, drawTicks: false}, border: {display: false},
            title: {display: true, text: 'Intensity (a.u.)', color: '#000', font: {size: 38, lineHeight: 1}, padding: {top: p.yTitlePad, bottom: 0}},
            afterFit: s => { s.width = p.yAxisW; s.paddingTop = 0; s.paddingBottom = 0; }}
      }
    },
    plugins: [framePlugin]
  });
}

makePanel('c1', {
  obsGrid: obsGrid1, obsStacks: obsStacks1, calc: calc1, diff: diff1,
  lagp: lagpBragg1, lagpY: 11, lfp: lfpBragg1, lfpY: 8, yTicks: yTicks1,
  pad: {left: 0, top: 63, right: 8, bottom: 0}, yAxisW: 91, xAxisH: 82,
  xTickPad: 18, xTitlePad: -2, yTitlePad: 19
});
makePanel('c2', {
  obsGrid: obsGrid2, obsStacks: obsStacks2, calc: calc2, diff: diff2, bg: bg2,
  lagp: lagpBragg2, lagpY: 11.6, lfp: lfpBragg2, lfpY: 7.7, yTicks: yTicks2,
  pad: {left: 0, top: 55, right: 18, bottom: 0}, yAxisW: 80, xAxisH: 79,
  xTickPad: 14, xTitlePad: 1, yTitlePad: 8
});
</script>
</body></html>
